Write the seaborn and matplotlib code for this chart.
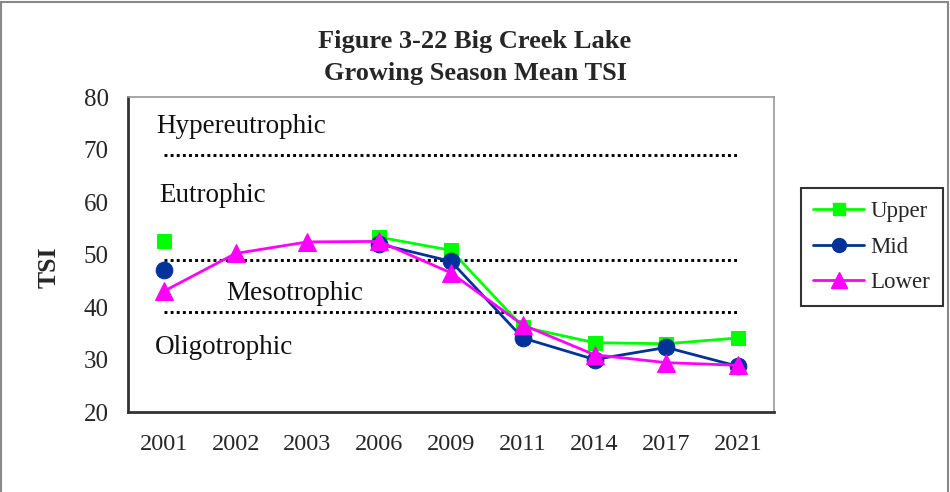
import matplotlib.pyplot as plt
import seaborn as sns
import pandas as pd
import numpy as np
from matplotlib.lines import Line2D
from matplotlib.patches import Rectangle

# datos
years = ['2001', '2002', '2003', '2006', '2009', '2011', '2014', '2017', '2021']
upper = [52.6, np.nan, np.nan, 53.3, 50.8, 36.2, 33.2, 33.0, 34.1]
mid = [47.0, np.nan, np.nan, 52.0, 48.7, 34.1, 30.0, 32.3, 28.7]
lower = [43.0, 50.2, 52.4, 52.5, 46.5, 36.6, 30.9, 29.4, 28.9]

limites = [69, 49, 39]
zonas = ['Hypereutrophic', 'Eutrophic', 'Mesotrophic', 'Oligotrophic']
zonas_y = [74.3, 61.2, 42.6, 32.3]

sns.set_theme(style="white")
plt.rcParams['font.family'] = ['Liberation Serif', 'DejaVu Serif']

series = {'Upper': upper, 'Mid': mid, 'Lower': lower}
colores = {'Upper': '#00FF00', 'Mid': '#003399', 'Lower': '#FF00FF'}
marcadores = {'Upper': 's', 'Mid': 'o', 'Lower': '^'}
tamanos = {'Upper': 10, 'Mid': 12, 'Lower': 13}

filas = []
for nombre, valores in series.items():
    v = pd.Series(valores)
    seg = v.isna().cumsum()  # corta la linea donde falta dato
    for i, (val, s) in enumerate(zip(v, seg)):
        if not pd.isna(val):
            filas.append({'pos': i, 'TSI': val, 'serie': nombre, 'seg': s})
df = pd.DataFrame(filas)

fig = plt.figure(figsize=(9.5, 4.92), dpi=100)
ax = fig.add_axes([0.1347, 0.1626, 0.68, 0.6402])

# lineas de referencia punteadas
for y in limites:
    ax.plot([0, len(years) - 1], [y, y], color='black', linestyle=(0, (1, 1.1)), linewidth=2.1)

for nombre in series:
    sub = df[df['serie'] == nombre]
    sns.lineplot(data=sub, x='pos', y='TSI', units='seg', estimator=None, ax=ax,
                 color=colores[nombre], marker=marcadores[nombre], markersize=tamanos[nombre],
                 markeredgecolor=colores[nombre], linewidth=2, legend=False, sort=False)

for txt, y, x in zip(zonas, zonas_y, [-0.1, -0.07, 0.87, -0.13]):
    ax.text(x, y, txt, fontsize=19.5, va='center', ha='left', color='#111111')

ax.set_xlim(-0.5, len(years) - 0.5)
ax.set_ylim(20, 80)
ax.set_yticks(range(20, 81, 10))
ax.set_xticks(range(len(years)))
ax.set_xticklabels(years)
ax.set_xticks(np.arange(-0.5, len(years)), minor=True)
ax.tick_params(axis='x', which='major', length=0, pad=16, labelsize=17.5)
ax.tick_params(axis='x', which='minor', length=7, width=1.3, direction='out', color='#333333')
ax.tick_params(axis='y', length=8, width=1.3, direction='out', labelsize=18, color='#333333', pad=6)
ax.set_xlabel('')
ax.set_ylabel('TSI', fontsize=18.5, fontweight='bold')
ax.yaxis.set_label_coords(-0.105, 0.46)
for lado in ['left', 'bottom']:
    ax.spines[lado].set_color('#333333')
    ax.spines[lado].set_linewidth(2)
for lado in ['top', 'right']:
    ax.spines[lado].set_color('#999999')
    ax.spines[lado].set_linewidth(1.2)

fig.text(0.500, 0.915, 'Figure 3-22 Big Creek Lake', ha='center', va='center', fontsize=19, fontweight='bold')
fig.text(0.500, 0.850, 'Growing Season Mean TSI', ha='center', va='center', fontsize=19, fontweight='bold')

manijas = [Line2D([0], [0], color=colores[n], marker=marcadores[n], markersize=tamanos[n] - 2,
                  linewidth=2, label=n) for n in series]
leg = fig.legend(handles=manijas, loc='upper left', bbox_to_anchor=(0.843, 0.618),
                 frameon=True, fontsize=16.5, handlelength=2.2, labelspacing=0.65,
                 borderpad=0.55, handletextpad=0.3, fancybox=False, borderaxespad=0)
leg.get_frame().set_edgecolor('black')
leg.get_frame().set_linewidth(1.5)

# marco gris de la figura
fig.patches.append(Rectangle((0.001, -0.01), 0.997, 1.005, transform=fig.transFigure,
                             fill=False, edgecolor='#888888', linewidth=1.5))

plt.savefig('out.png', dpi=100)
plt.close()
